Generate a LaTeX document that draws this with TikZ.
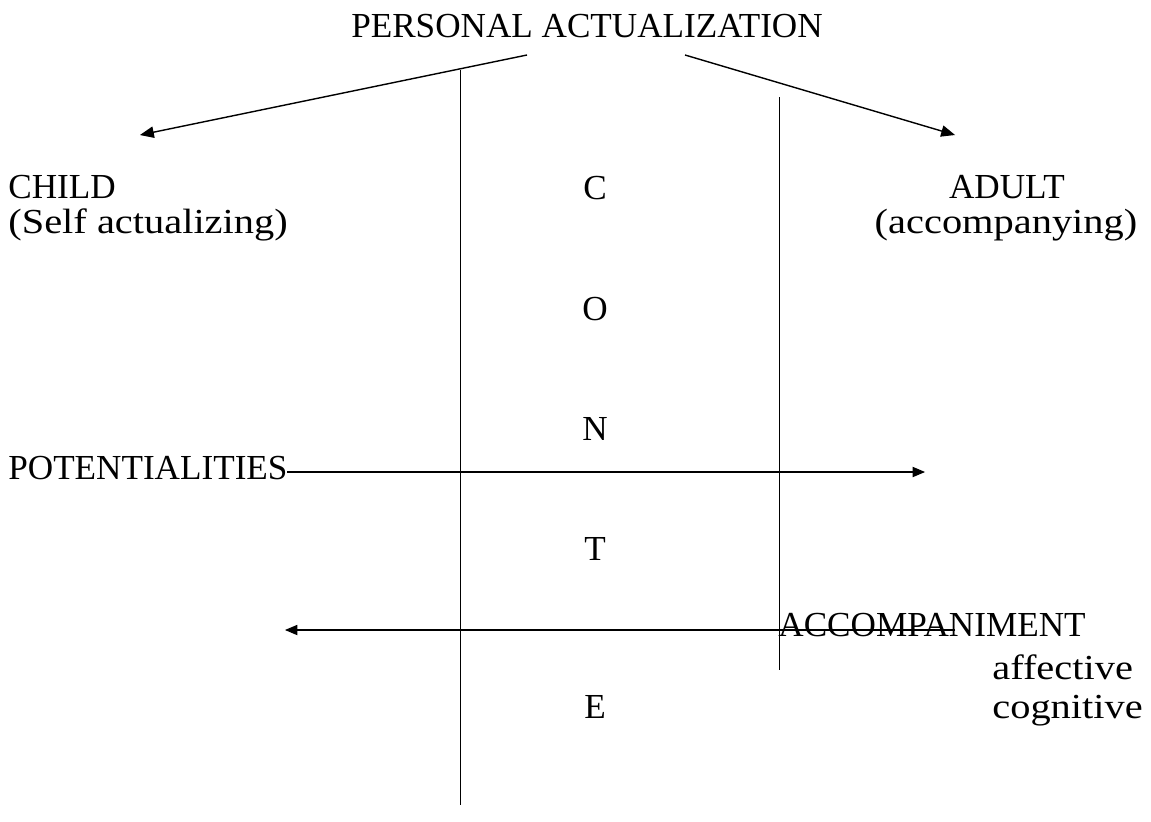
\documentclass[tikz,border=0pt]{standalone}
\usepackage{fontspec}
\setmainfont{Liberation Serif}
\newfontfamily\widefont[FakeStretch=1.15]{Liberation Serif}
\usetikzlibrary{arrows}

\begin{document}
\begin{tikzpicture}[x=0.02cm,y=-0.02cm,>=triangle 45,
    every node/.style={inner sep=0pt,font=\fontsize{20}{24}\selectfont},
    lower/.style={font=\fontsize{20}{24}\widefont}]
        \useasboundingbox (0,0) rectangle (1151,821);
        % texts
        \node[anchor=base] (title) at (587,38) {PERSONAL ACTUALIZATION};
        \node[anchor=base west] (child) at (8,198) {CHILD};
        \node[anchor=base west,lower] (childsub) at (8,233) {(Self actualizing)};
        \node[anchor=base] (adult) at (1007,198) {ADULT};
        \node[anchor=base,lower] (adultsub) at (1006,233) {(accompanying)};
        \node[anchor=base] (c) at (595,199) {C};
        \node[anchor=base] (o) at (595,320) {O};
        \node[anchor=base] (n) at (595,440) {N};
        \node[anchor=base] (t) at (595,560) {T};
        \node[anchor=base] (e) at (595,718) {E};
        \node[anchor=base west] (pot) at (8,479) {POTENTIALITIES};
        \node[anchor=base] (acc) at (932,636) {ACCOMPANIMENT};
        \node[anchor=base west,lower] (aff) at (992,679) {affective};
        \node[anchor=base west,lower] (cog) at (992,718) {cognitive};
        % end points
        \coordinate (ls) at (527,55);
        \coordinate (lt) at (140,135);
        \coordinate (rs) at (685,55);
        \coordinate (rt) at (955,135);
        \coordinate (ptop) at (287,472);
        \coordinate (pend) at (925,472);
        \coordinate (astart) at (955,630);
        \coordinate (aend) at (285,630);
        \coordinate (v1top) at (460,70);
        \coordinate (v1bot) at (460,805);
        \coordinate (v2top) at (779,97);
        \coordinate (v2bot) at (779,670);
        % vertical lines
        \draw (v1top) -- (v1bot);
        \draw (v2top) -- (v2bot);
        % arrows
        \draw[->,thick] (ls) -- (lt);
        \draw[->,thick] (rs) -- (rt);
        \draw[->,semithick] (ptop) -- (pend);
        \draw[->,semithick] (astart) -- (aend);
\end{tikzpicture}
\end{document}
